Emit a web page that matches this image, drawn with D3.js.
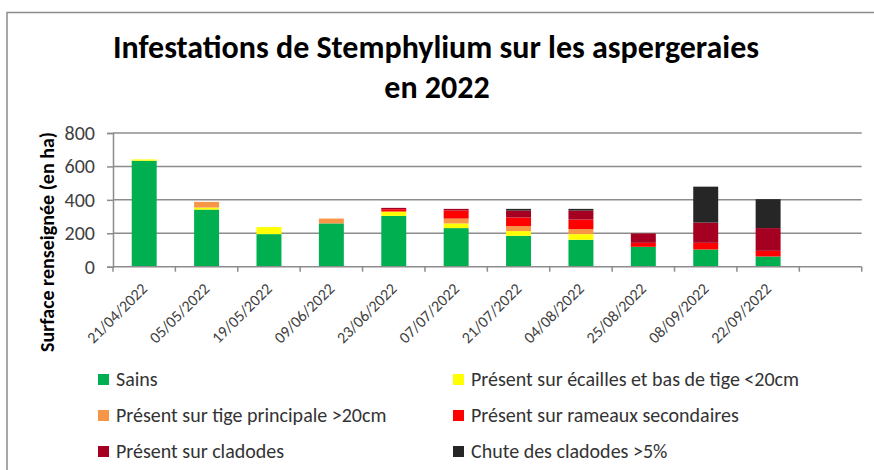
<!DOCTYPE html>
<html>
<head>
<meta charset="utf-8">
<script src="https://cdn.jsdelivr.net/npm/d3@7"></script>
<style>
  html, body { margin: 0; padding: 0; background: #fff; }
  text { font-family: Carlito, Calibri, Lato, sans-serif; }
</style>
</head>
<body>
<div id="chart"></div>
<script>
// Dates de relevé (la dernière case de l'axe est vide)
const dates = ['21/04/2022', '05/05/2022', '19/05/2022', '09/06/2022', '23/06/2022', '07/07/2022',
    '21/07/2022', '04/08/2022', '25/08/2022', '08/09/2022', '22/09/2022']

// Surfaces en ha, par classe
const sains = [634, 342, 195, 259, 304, 231, 185, 161, 119, 103, 61]
const ecailles = [8, 12, 42, 0, 26, 28, 28, 34, 0, 0, 0]
const tige = [0, 34, 0, 29, 0, 29, 30, 30, 0, 0, 0]
const rameaux = [0, 0, 0, 0, 14, 48, 51, 57, 24, 40, 34]
const cladodes = [0, 0, 0, 0, 8, 10, 42, 54, 56, 121, 136]
const chute = [0, 0, 0, 0, 0, 0, 10, 10, 0, 215, 173]

const seriesNames = ['Sains', 'Présent sur écailles et bas de tige <20cm', 'Présent sur tige principale >20cm',
    'Présent sur rameaux secondaires', 'Présent sur cladodes', 'Chute des cladodes >5%']
const seriesColors = ['#00B050', '#FFFF00', '#F79646', '#FF0000', '#A50021', '#262626']
const yTicks = [0, 200, 400, 600, 800]

const width = 874
const height = 470
const margin = { top: 133, left: 113, right: 12, bottom: 203 }

const svg = d3.select('#chart').append('svg')
    .attr('width', width)
    .attr('height', height)

// cadre
svg.append('rect')
    .attr('x', 7)
    .attr('y', 12.5)
    .attr('width', width)
    .attr('height', height)
    .attr('fill', 'none')
    .attr('stroke', '#8c8c8c')
    .attr('stroke-width', 1.5)

// titre
svg.append('text')
    .attr('x', 436)
    .attr('y', 58)
    .attr('text-anchor', 'middle')
    .style('font-size', '32px')
    .style('font-weight', 'bold')
    .style('fill', '#000')
    .text('Infestations de Stemphylium sur les aspergeraies')

svg.append('text')
    .attr('x', 437)
    .attr('y', 98)
    .attr('text-anchor', 'middle')
    .style('font-size', '32px')
    .style('font-weight', 'bold')
    .style('fill', '#000')
    .text('en 2022')

// build rows for the stack
const keys = ['sains', 'ecailles', 'tige', 'rameaux', 'cladodes', 'chute']
const cols = [sains, ecailles, tige, rameaux, cladodes, chute]
const rows = dates.map((d, i) => {
    let r = { date: d }
    keys.forEach((k, j) => { r[k] = cols[j][i] })
    return r
})
const stacked = d3.stack().keys(keys)(rows)

const x = d3.scaleBand()
    .domain(dates.concat(['']))
    .range([margin.left, width - margin.right - 0.3])
    .paddingInner(0.6)
    .paddingOuter(0.3)

const y = d3.scaleLinear()
    .domain([0, 800])
    .range([height - margin.bottom - 0.3, margin.top])

// grille
svg.append('g')
    .selectAll('line')
    .data(yTicks.slice(1))
    .enter().append('line')
    .attr('x1', x.range()[0])
    .attr('x2', x.range()[1])
    .attr('y1', d => y(d))
    .attr('y2', d => y(d))
    .attr('stroke', '#8c8c8c')
    .attr('stroke-width', 1.5)

// barres
const layer = svg.append('g')
    .selectAll('g')
    .data(stacked)
    .enter().append('g')
    .attr('fill', (d, i) => seriesColors[i])

layer.selectAll('rect')
    .data(d => d)
    .enter().append('rect')
    .attr('x', d => x(d.data.date))
    .attr('width', x.bandwidth())
    .attr('y', d => y(d[1]))
    .attr('height', d => y(d[0]) - y(d[1]))

// axe Y
const yAxis = svg.append('g')
    .attr('transform', 'translate(' + x.range()[0] + ',0)')
    .call(d3.axisLeft(y).tickValues(yTicks).tickSize(6).tickPadding(12))
yAxis.select('.domain').attr('stroke', '#8c8c8c').attr('stroke-width', 1.5)
yAxis.selectAll('.tick line').attr('stroke', '#8c8c8c').attr('stroke-width', 1.5)
yAxis.selectAll('.tick text')
    .style('font-size', '20px')
    .style('font-family', 'Carlito, Calibri, Lato, sans-serif')
    .attr('fill', '#404040')

// axe X : ligne + graduations entre les catégories
const y0 = y(0)
svg.append('line')
    .attr('x1', x.range()[0])
    .attr('x2', x.range()[1])
    .attr('y1', y0)
    .attr('y2', y0)
    .attr('stroke', '#8c8c8c')
    .attr('stroke-width', 1.5)

const bounds = d3.range(x.domain().length + 1).map(i => x.range()[0] + i * x.step())
svg.append('g')
    .selectAll('line')
    .data(bounds)
    .enter().append('line')
    .attr('x1', d => d)
    .attr('x2', d => d)
    .attr('y1', y0)
    .attr('y2', y0 + 5)
    .attr('stroke', '#8c8c8c')
    .attr('stroke-width', 1.5)

svg.append('g')
    .selectAll('text')
    .data(dates)
    .enter().append('text')
    .attr('transform', d => 'translate(' + (x(d) + x.bandwidth() / 2 + 4) + ',' + (y0 + 23) + ') rotate(-45)')
    .attr('text-anchor', 'end')
    .style('font-size', '16px')
    .attr('fill', '#404040')
    .text(d => d)

// titre axe Y
svg.append('text')
    .attr('transform', 'translate(54,242) rotate(-90)')
    .attr('text-anchor', 'middle')
    .style('font-size', '20px')
    .style('font-weight', 'bold')
    .attr('fill', '#000')
    .text('Surface renseignée (en ha)')

// légende
const legendX = [98, 453]
const legendY = [379, 415, 451]
const legend = svg.append('g')
    .selectAll('g')
    .data(seriesNames)
    .enter().append('g')
    .attr('transform', (d, i) => 'translate(' + legendX[i % 2] + ',' + legendY[Math.floor(i / 2)] + ')')

legend.append('rect')
    .attr('x', 0)
    .attr('y', -5)
    .attr('width', 11)
    .attr('height', 11)
    .attr('fill', (d, i) => seriesColors[i])

legend.append('text')
    .attr('x', 18)
    .attr('y', 7)
    .style('font-size', '20px')
    .attr('fill', '#333')
    .text(d => d)
</script>
</body>
</html>
